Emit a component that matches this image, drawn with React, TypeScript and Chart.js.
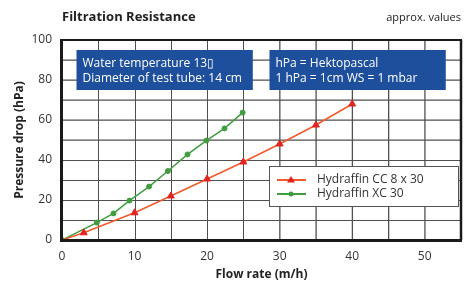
import React, { useEffect, useRef } from "react";
import { Chart, registerables } from "chart.js";

Chart.register(...registerables);

const titleText = "Filtration Resistance";
const noteText = "approx. values";
const xTitle = "Flow rate (m/h)";
const yTitle = "Pressure drop (hPa)";
const box1Lines = ["Water temperature 13\u25af", "Diameter of test tube: 14 cm"];
const box2Lines = ["hPa = Hektopascal", "1 hPa = 1cm WS = 1 mbar"];

const ccLabel = "Hydraffin CC 8 x 30";
const ccX = [0, 3, 10, 15, 20, 25, 30, 35, 40];
const ccY = [0, 3.6, 13.6, 22, 30.5, 39, 48, 57.5, 68];

const xcLabel = "Hydraffin XC 30";
const xcX = [0, 4.8, 7.1, 9.3, 12, 14.6, 17.3, 19.9, 22.4, 24.9];
const xcY = [0, 8.7, 13.3, 19.7, 26.7, 34.5, 42.8, 49.7, 55.8, 63.7];

const xMax = 55;
const yMax = 100;
const xGridStep = 5;
const yGridStep = 10;
const xLabelStep = 10;
const yLabelStep = 20;

const FONT = "'Open Sans', 'Liberation Sans', sans-serif";
const RED_LINE = "#f15a29";
const RED_PT = "#e3231f";
const GREEN = "#3f9d3f";
const BLUE = "#1d4f9c";
const GRID = "#505050";
const FRAME = "#1a1a1a";

const decorPlugin = {
  id: "decor",
  afterDraw(chart: any) {
    const { ctx, chartArea: a } = chart;
    const xs = chart.scales.x;
    const ys = chart.scales.y;
    const L = Math.round(a.left);
    const R = Math.round(a.right);
    const T = Math.round(a.top);
    const B = Math.round(a.bottom);
    ctx.save();
    const drawBox = (x0: number, x1: number, lines: string[]) => {
      const l = xs.getPixelForValue(x0);
      const r = xs.getPixelForValue(x1);
      const t = ys.getPixelForValue(95);
      const b = ys.getPixelForValue(75);
      ctx.fillStyle = BLUE;
      ctx.fillRect(l, t, r - l, b - t);
      ctx.fillStyle = "#ffffff";
      ctx.font = `12px ${FONT}`;
      ctx.textBaseline = "middle";
      ctx.textAlign = "left";
      ctx.fillText(lines[0], l + 6, t + 14);
      ctx.fillText(lines[1], l + 6, t + 29);
    };
    drawBox(2, 26.3, box1Lines);
    drawBox(28.6, 52.9, box2Lines);
    // TEST: x grid 5..25 crisp fill; 30..50 antialiased stroke
    ctx.globalCompositeOperation = "destination-over";
    ctx.fillStyle = GRID;
    for (let v = xGridStep; v <= 25; v += xGridStep) {
      ctx.fillRect(Math.round(xs.getPixelForValue(v)), T, 1, B - T);
    }
    for (let v = yGridStep; v <= 40; v += yGridStep) {
      ctx.fillRect(L, Math.round(ys.getPixelForValue(v)), R - L, 1);
    }
    ctx.strokeStyle = GRID;
    ctx.lineWidth = 1.3;
    ctx.beginPath();
    for (let v = 30; v < xMax; v += xGridStep) {
      const px = xs.getPixelForValue(v) + 0.2;
      ctx.moveTo(px, T);
      ctx.lineTo(px, B);
    }
    for (let v = 50; v < yMax; v += yGridStep) {
      const py = ys.getPixelForValue(v) + 0.2;
      ctx.moveTo(L, py);
      ctx.lineTo(R, py);
    }
    ctx.stroke();
    ctx.globalCompositeOperation = "source-over";
    // frame: top as fill, right as stroke with shadow of 2.5 width
    ctx.fillStyle = FRAME;
    ctx.fillRect(L - 1, T - 1, R - L + 2, 2);
    ctx.strokeStyle = FRAME;
    ctx.lineWidth = 2.5;
    ctx.beginPath();
    ctx.moveTo(R, T);
    ctx.lineTo(R, B);
    ctx.stroke();
    ctx.fillRect(L - 2, T - 1, 3, B - T + 3);
    ctx.fillRect(L - 2, B - 1, R - L + 3, 3);
    // titles
    ctx.fillStyle = "#222";
    ctx.font = `bold 13px ${FONT}`;
    ctx.textBaseline = "alphabetic";
    ctx.textAlign = "left";
    ctx.fillText(titleText, a.left, 21);
    ctx.font = `11px ${FONT}`;
    ctx.textAlign = "right";
    ctx.fillText(noteText, a.right, 21);
    // legend
    const l = Math.round(xs.getPixelForValue(28.6));
    const r = R - 2;
    const t = Math.round(ys.getPixelForValue(37));
    const b = Math.round(ys.getPixelForValue(16.5));
    ctx.fillStyle = "#555";
    ctx.fillRect(l, t, r - l, b - t);
    ctx.fillStyle = "#ffffff";
    ctx.fillRect(l + 1, t + 1, r - l - 2, b - t - 2);
    const rows = [
      { label: ccLabel, line: RED_LINE, pt: RED_PT, tri: true },
      { label: xcLabel, line: GREEN, pt: GREEN, tri: false },
    ];
    rows.forEach((row, i) => {
      const y = t + 14 + i * 14;
      ctx.fillStyle = row.line;
      ctx.fillRect(l + 8, y - 1, 29, 2);
      ctx.fillStyle = row.pt;
      const cx = l + 22;
      ctx.beginPath();
      if (row.tri) {
        ctx.moveTo(cx, y - 4);
        ctx.lineTo(cx + 4, y + 2.5);
        ctx.lineTo(cx - 4, y + 2.5);
        ctx.closePath();
      } else {
        ctx.arc(cx, y, 2.5, 0, Math.PI * 2);
      }
      ctx.fill();
      ctx.fillStyle = "#333";
      ctx.font = `12px ${FONT}`;
      ctx.textAlign = "left";
      ctx.textBaseline = "middle";
      ctx.fillText(row.label, l + 48, y);
    });
    ctx.restore();
  },
};

export default function App() {
  const ref = useRef<HTMLCanvasElement>(null);
  useEffect(() => {
    if (!ref.current) return;
    const chart = new Chart(ref.current, {
      type: "scatter",
      data: {
        datasets: [
          {
            label: ccLabel,
            data: ccX.map((x, i) => ({ x, y: ccY[i] })),
            showLine: true,
            borderColor: RED_LINE,
            backgroundColor: RED_PT,
            borderWidth: 1.5,
            pointStyle: "triangle",
            pointRadius: ccX.map((x) => (x === 0 ? 0 : 4)),
            pointBorderColor: RED_PT,
            pointBorderWidth: 1,
          },
          {
            label: xcLabel,
            data: xcX.map((x, i) => ({ x, y: xcY[i] })),
            showLine: true,
            borderColor: GREEN,
            backgroundColor: GREEN,
            borderWidth: 1.5,
            pointStyle: "circle",
            pointRadius: 2.5,
            pointBorderColor: GREEN,
            pointBorderWidth: 1,
          },
        ],
      },
      options: {
        animation: false,
        responsive: false,
        layout: { padding: { top: 40, right: 4, left: 0, bottom: 0 } },
        plugins: { legend: { display: false }, tooltip: { enabled: false } },
        scales: {
          x: {
            type: "linear",
            min: 0,
            max: xMax,
            afterBuildTicks: (axis: any) => {
              axis.ticks = axis.ticks.filter((t: any) => t.value % xLabelStep === 0);
            },
            ticks: {
              stepSize: xLabelStep,
              color: "#333",
              font: { family: FONT, size: 12 },
              padding: 9,
              maxRotation: 0,
            },
            grid: { display: false, drawTicks: false },
            border: { display: false },
            title: {
              display: true,
              text: xTitle,
              color: "#222",
              font: { family: FONT, size: 12, weight: "bold" },
              padding: { top: 0, bottom: 0 },
            },
            afterFit: (axis: any) => {
              axis.height = 42;
            },
          },
          y: {
            type: "linear",
            min: 0,
            max: yMax,
            ticks: {
              stepSize: yLabelStep,
              color: "#333",
              font: { family: FONT, size: 12 },
              padding: 10,
            },
            grid: { display: false, drawTicks: false },
            border: { display: false },
            title: {
              display: true,
              text: yTitle,
              color: "#222",
              font: { family: FONT, size: 12, weight: "bold" },
              padding: { top: 12, bottom: 4 },
            },
            afterFit: (axis: any) => {
              axis.width = 62;
            },
          },
        },
      },
      plugins: [decorPlugin],
    } as any);
    return () => chart.destroy();
  }, []);
  return (
    <div style={{ position: "fixed", left: 0, top: 0, width: 466, height: 282, background: "#fff" }}>
      <canvas ref={ref} width={466} height={282} style={{ display: "block" }} />
    </div>
  );
}
